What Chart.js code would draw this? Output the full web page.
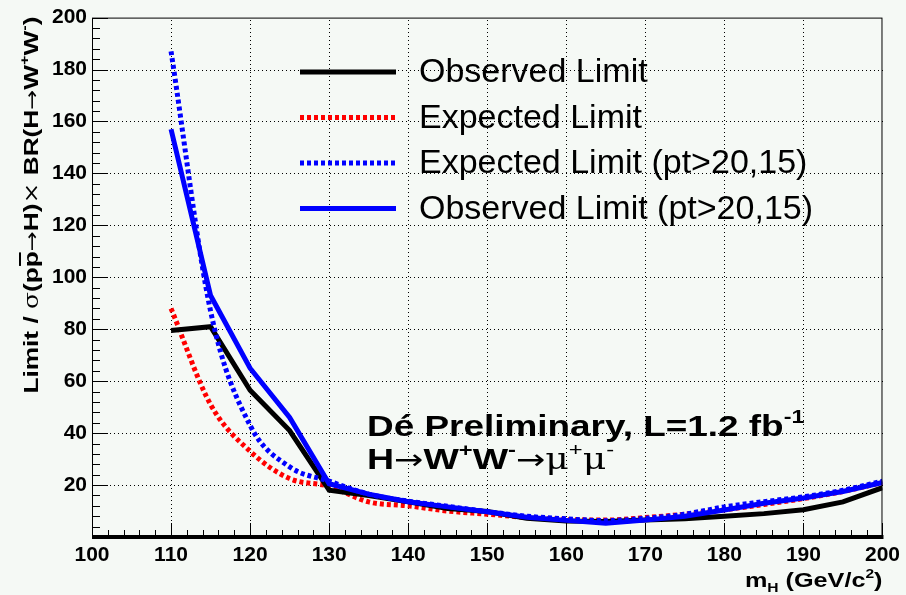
<!DOCTYPE html>
<html>
<head>
<meta charset="utf-8">
<script src="https://cdn.jsdelivr.net/npm/chart.js@4.4.0/dist/chart.umd.min.js"></script>
<style>
    html, body { margin: 0; padding: 0; background: #f5f9f5; }
    #cadre { width: 906px; height: 595px; position: relative; }
</style>
</head>
<body>
<div id="cadre"><canvas id="graphique-limites"></canvas></div>
<script>
// masses de Higgs (GeV/c2) et limites
const masses = [110, 115, 120, 125, 130, 135, 140, 145, 150, 155, 160, 165, 170, 175, 180, 185, 190, 195, 200];
const observedLimit = [79.5, 81, 56.5, 41, 18, 16, 13.6, 11, 9.8, 7.2, 6.2, 6, 6.5, 7, 8, 9, 10.5, 13.5, 19];
const expectedLimit = [88, 51, 33, 22.5, 19.5, 13.5, 12, 10, 8.8, 7.5, 6.8, 6.5, 7.5, 8.8, 10.5, 12.5, 14.8, 17.5, 21];
const expectedLimitPt = [187, 87, 43, 27, 21.5, 16.5, 13.8, 11.8, 9.8, 8, 7, 6.3, 7.2, 8.8, 11.6, 13.6, 15.5, 18, 21.5];
const observedLimitPt = [157, 93, 65, 46, 20.5, 16.5, 13.6, 11.6, 9.7, 7.6, 6.4, 5.3, 6.5, 8, 10.4, 13, 15, 17.5, 21];

const labels = ["Observed Limit", "Expected Limit", "Expected Limit (pt>20,15)", "Observed Limit (pt>20,15)"];
const xRange = [100, 200];
const yRange = [0, 200];

const police = "'Liberation Sans', Arial, Helvetica, sans-serif";

function points(valeurs) {
    return masses.map((m, i) => ({ x: m, y: valeurs[i] }));
}

// texte avec exposants / indices, étiré horizontalement de k
function texteRiche(ctx, x, y, morceaux, k, alignDroite) {
    let largeur = 0;
    for (let m of morceaux) {
        ctx.font = m.f;
        largeur += ctx.measureText(m.t).width;
    }
    ctx.save();
    ctx.translate(x, y);
    ctx.scale(k, 1);
    let cx = alignDroite ? -largeur : 0;
    ctx.textAlign = "left";
    ctx.textBaseline = "alphabetic";
    for (let m of morceaux) {
        ctx.font = m.f;
        const w = ctx.measureText(m.t).width;
        ctx.fillText(m.t, cx, m.dy || 0);
        if (m.barre) {
            ctx.fillRect(cx + 1, m.barre, w - 2, 2);
        }
        cx += w;
    }
    ctx.restore();
}

const decorPlugin = {
    id: "decor",
    beforeDraw(chart) {
        const ctx = chart.ctx;
        ctx.save();
        ctx.fillStyle = "#f5f9f5";
        ctx.fillRect(0, 0, chart.width, chart.height);
        ctx.restore();
    },
    beforeDatasetsDraw(chart) {
        // grille pointillée (un point tous les 4 px)
        const ctx = chart.ctx;
        const area = chart.chartArea;
        const sx = chart.scales.x, sy = chart.scales.y;
        ctx.save();
        ctx.fillStyle = "#000";
        for (let v = xRange[0] + 10; v < xRange[1]; v += 10) {
            const px = Math.round(sx.getPixelForValue(v));
            for (let py = Math.round(area.top) + 2; py < area.bottom; py += 4) {
                ctx.fillRect(px, py, 1, 1);
            }
        }
        for (let v = yRange[0] + 20; v < yRange[1]; v += 20) {
            const py = Math.round(sy.getPixelForValue(v));
            for (let px = Math.round(area.left) + 2; px < area.right; px += 4) {
                ctx.fillRect(px, py, 1, 1);
            }
        }
        ctx.restore();
    },
    afterDatasetsDraw(chart) {
        const ctx = chart.ctx;
        const area = chart.chartArea;
        const sx = chart.scales.x, sy = chart.scales.y;
        ctx.save();
        ctx.strokeStyle = "#000";
        ctx.fillStyle = "#000";

        // cadre
        ctx.lineWidth = 1;
        ctx.strokeRect(area.left + 0.5, area.top + 0.5, area.right - area.left - 1, area.bottom - area.top);
        ctx.fillRect(area.left, area.bottom - 2, area.right - area.left + 1, 4);

        // graduations vers l'intérieur
        ctx.beginPath();
        for (let v = xRange[0]; v <= xRange[1]; v += 2) {
            const px = Math.round(sx.getPixelForValue(v)) + 0.5;
            const len = v % 10 === 0 ? 14 : 7;
            ctx.moveTo(px, area.bottom);
            ctx.lineTo(px, area.bottom - len);
        }
        for (let v = yRange[0]; v <= yRange[1]; v += 4) {
            const py = Math.round(sy.getPixelForValue(v)) + 0.5;
            const len = v % 20 === 0 ? 16 : 8;
            ctx.moveTo(area.left, py);
            ctx.lineTo(area.left + len, py);
        }
        ctx.stroke();

        // légende
        const ds = chart.data.datasets;
        for (let i = 0; i < ds.length; i++) {
            const y = 72 + i * 45.5;
            ctx.beginPath();
            ctx.lineWidth = ds[i].borderWidth;
            ctx.strokeStyle = ds[i].borderColor;
            ctx.setLineDash(ds[i].borderDash || []);
            ctx.moveTo(300, y);
            ctx.lineTo(396, y);
            ctx.stroke();
            ctx.setLineDash([]);
            ctx.fillStyle = "#000";
            ctx.font = "34px " + police;
            ctx.textAlign = "left";
            ctx.textBaseline = "middle";
            ctx.fillText(ds[i].label, 419, y + 1);
        }

        // annotations
        ctx.fillStyle = "#000";
        const gras = "bold 30px " + police;
        const petit = "bold 19px " + police;
        const fleche = "28px 'DejaVu Sans', sans-serif";
        const fin = "29px 'DejaVu Serif', serif";
        const finPetit = "19px " + police;
        texteRiche(ctx, 367, 436, [
            { t: "Dé Preliminary, L=1.2 fb", f: gras },
            { t: "-1", f: petit, dy: -13 }
        ], 1.23);
        texteRiche(ctx, 367, 469, [
            { t: "H", f: gras },
            { t: "→", f: fleche },
            { t: "W", f: gras },
            { t: "+", f: petit, dy: -13 },
            { t: "W", f: gras },
            { t: "-", f: petit, dy: -13 },
            { t: "→", f: fleche },
            { t: "μ", f: fin },
            { t: "+", f: finPetit, dy: -13 },
            { t: "μ", f: fin },
            { t: "-", f: finPetit, dy: -13 }
        ], 1.25);

        // titre axe x
        texteRiche(ctx, area.right, 587, [
            { t: "m", f: "bold 21px " + police },
            { t: "H", f: "bold 13px " + police, dy: 5 },
            { t: " (GeV/c", f: "bold 21px " + police },
            { t: "2", f: "bold 13px " + police, dy: -9 },
            { t: ")", f: "bold 21px " + police }
        ], 1.2, true);

        // titre axe y
        const g = "bold 21px " + police;
        const sym = "20px 'DejaVu Serif', serif";
        const fl = "19px 'DejaVu Sans', sans-serif";
        const sp = "bold 13px " + police;
        ctx.save();
        ctx.translate(38, area.top - 1);
        ctx.rotate(-Math.PI / 2);
        texteRiche(ctx, 0, 0, [
            { t: "Limit / ", f: g },
            { t: "σ", f: sym },
            { t: "(p", f: g },
            { t: "p", f: g, barre: -19 },
            { t: "→", f: fl },
            { t: "H)", f: g },
            { t: "×", f: sym },
            { t: " BR(H", f: g },
            { t: "→", f: fl },
            { t: "W", f: g },
            { t: "+", f: sp, dy: -9 },
            { t: "W", f: g },
            { t: "-", f: sp, dy: -9 },
            { t: ")", f: g }
        ], 1.25, true);
        ctx.restore();

        ctx.restore();
    }
};

const data = {
    datasets: [{
        label: labels[0],
        data: points(observedLimit),
        borderColor: "#000000",
        borderWidth: 5,
        order: 2
    }, {
        label: labels[1],
        data: points(expectedLimit),
        borderColor: "#ff0000",
        borderWidth: 5,
        borderDash: [4, 3],
        cubicInterpolationMode: "monotone",
        order: 3
    }, {
        label: labels[2],
        data: points(expectedLimitPt),
        borderColor: "#0000ff",
        borderWidth: 5,
        borderDash: [4, 3],
        cubicInterpolationMode: "monotone",
        order: 1
    }, {
        label: labels[3],
        data: points(observedLimitPt),
        borderColor: "#0000ff",
        borderWidth: 5,
        order: 0
    }]
};

const config = {
    type: "line",
    data: data,
    plugins: [decorPlugin],
    options: {
        responsive: true,
        maintainAspectRatio: false,
        animation: false,
        devicePixelRatio: 1,
        layout: { padding: { top: 16, right: 23, left: 0, bottom: 0 } },
        elements: {
            point: { radius: 0 },
            line: { fill: false, borderCapStyle: "butt", borderJoinStyle: "miter" }
        },
        plugins: {
            legend: { display: false },
            tooltip: { enabled: false }
        },
        scales: {
            x: {
                type: "linear",
                min: xRange[0],
                max: xRange[1],
                afterFit: (scale) => { scale.height = 58; },
                grid: { display: false, drawTicks: false },
                border: { display: false },
                ticks: {
                    stepSize: 10,
                    autoSkip: false,
                    maxRotation: 0,
                    padding: 6,
                    color: "#000",
                    font: { family: police, size: 21, weight: "bold" }
                }
            },
            y: {
                type: "linear",
                min: yRange[0],
                max: yRange[1],
                afterFit: (scale) => { scale.width = 92; },
                grid: { display: false, drawTicks: false },
                border: { display: false },
                ticks: {
                    stepSize: 20,
                    autoSkip: false,
                    padding: 5,
                    color: "#000",
                    font: { family: police, size: 21, weight: "bold" },
                    callback: (v) => v === 0 ? "" : v
                }
            }
        }
    }
};

const graphiqueLimites = new Chart(document.querySelector("#graphique-limites"), config);
</script>
</body>
</html>
